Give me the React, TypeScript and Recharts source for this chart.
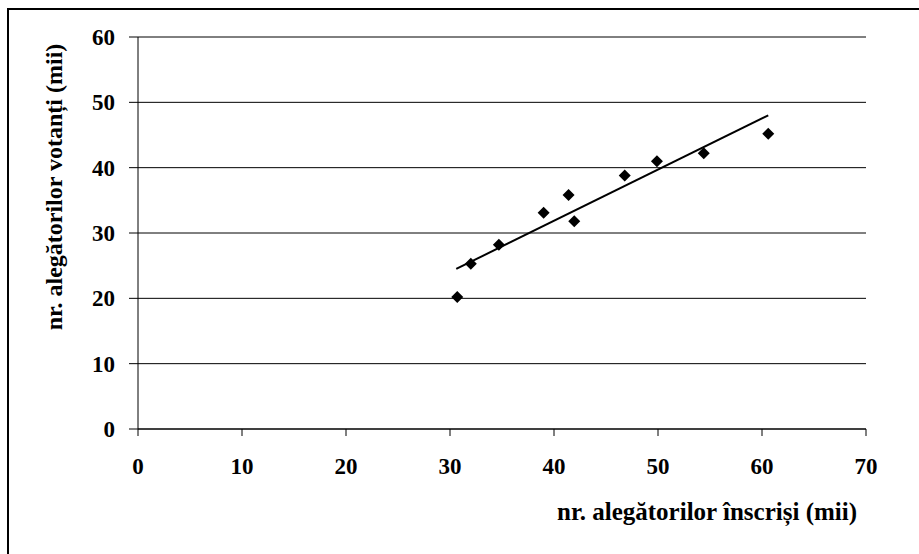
import React from 'react';
import { ScatterChart, Scatter, XAxis, YAxis, CartesianGrid, Label } from 'recharts';

const registered = [30.7, 32.0, 34.7, 39.0, 41.4, 41.95, 46.8, 49.9, 54.4, 60.6];
const voters = [20.2, 25.3, 28.2, 33.1, 35.8, 31.8, 38.8, 41.0, 42.2, 45.2];
const trendX = [30.6, 60.6];
const trendY = [24.5, 48.0];
const xTicks = [0, 10, 20, 30, 40, 50, 60, 70];
const yTicks = [0, 10, 20, 30, 40, 50, 60];

const points = registered.map((x, i) => ({ x, y: voters[i] }));
const trend = trendX.map((x, i) => ({ x, y: trendY[i] }));

const FONT = 'Liberation Serif';

const Diamond = (props: any) => {
  const { cx, cy } = props;
  const r = 6;
  return <path d={`M${cx},${cy - r} L${cx + r},${cy} L${cx},${cy + r} L${cx - r},${cy} Z`} fill="#000" />;
};

export default function App() {
  return (
    <div style={{ position: 'absolute', left: 0, top: 0, width: 919, height: 554, overflow: 'hidden', background: '#fff', fontFamily: FONT }}>
      <div style={{ position: 'absolute', left: 7, top: 8, width: 1000, height: 1000, borderLeft: '2.5px solid #000', borderTop: '2.5px solid #000' }} />
      <div style={{ position: 'absolute', left: 0, top: 0, fontFamily: FONT }}>
        <ScatterChart width={919} height={554} margin={{ top: 37, right: 53, left: 0, bottom: 0 }} style={{ fontFamily: FONT }}>
          <CartesianGrid vertical={false} stroke="#000" strokeWidth={1} />
          <XAxis
            type="number"
            dataKey="x"
            domain={[0, 70]}
            ticks={xTicks}
            height={125}
            tickSize={7}
            tickMargin={22}
            axisLine={{ stroke: '#000' }}
            tickLine={{ stroke: '#000' }}
            tick={{ fill: '#000', fontSize: 23, fontWeight: 'bold', fontFamily: FONT }}
          >
            <Label
              value="nr. alegătorilor înscriși (mii)"
              position="insideBottomRight"
              offset={34}
              dx={25}
              fontFamily={FONT}
              style={{ fill: '#000', fontSize: 25, fontWeight: 'bold', fontFamily: FONT }}
            />
          </XAxis>
          <YAxis
            type="number"
            dataKey="y"
            domain={[0, 60]}
            ticks={yTicks}
            width={138}
            tickSize={9}
            tickMargin={14}
            axisLine={{ stroke: '#000' }}
            tickLine={{ stroke: '#000' }}
            tick={{ fill: '#000', fontSize: 23, fontWeight: 'bold', fontFamily: FONT }}
          >
            <Label
              value="nr. alegătorilor votanți (mii)"
              position="center"
              angle={-90}
              dx={-16}
              dy={-46}
              fontFamily={FONT}
              style={{ fill: '#000', fontSize: 24, fontWeight: 'bold', fontFamily: FONT, textAnchor: 'middle' }}
            />
          </YAxis>
          <Scatter data={trend} line={{ stroke: '#000', strokeWidth: 2 }} shape={() => null} isAnimationActive={false} />
          <Scatter data={points} shape={<Diamond />} isAnimationActive={false} />
        </ScatterChart>
      </div>
    </div>
  );
}
